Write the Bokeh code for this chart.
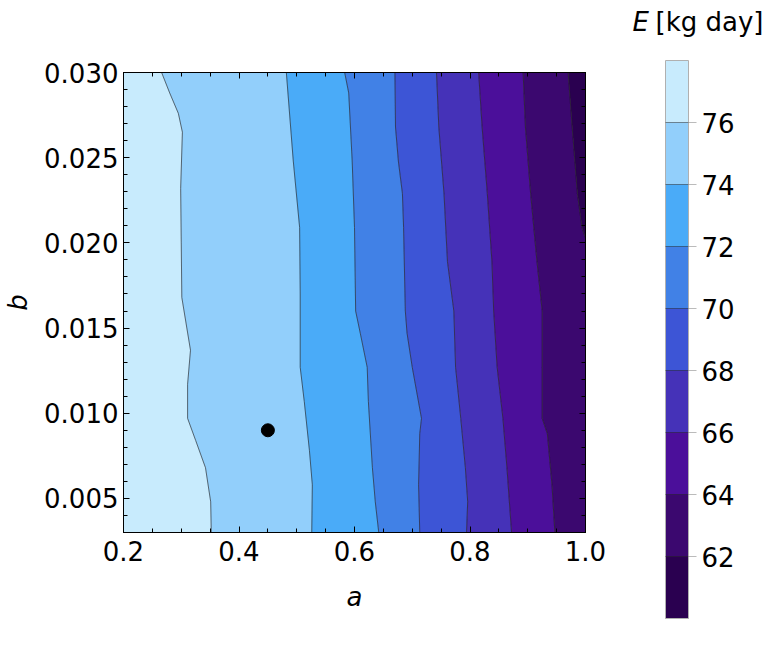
from bokeh.plotting import figure
from bokeh.models import (Range1d, FixedTicker, PrintfTickFormatter, LinearAxis,
                          CustomJSTickFormatter, ColorBar, LinearColorMapper)
from bokeh.embed import file_html
from bokeh.resources import INLINE

FONT = "DejaVu Sans"

# ---------------- data ----------------
levels = [60, 62, 64, 66, 68, 70, 72, 74, 76, 78]
band_colors = ["#2a0050", "#3b086f", "#4b0f9a", "#4532b8", "#3d55d6",
               "#4181e6", "#4aabf8", "#92cffb", "#c8ebfd"]
cbar_ticks = [62, 64, 66, 68, 70, 72, 74, 76]
cbar_title_symbol = "E"
cbar_title_unit = "[kg day]"

a_range = [0.2, 1.0]
b_range = [0.003, 0.030]

x_ticks = [0.2, 0.4, 0.6, 0.8, 1.0]
x_minor = [0.2, 0.25, 0.3, 0.35, 0.4, 0.45, 0.5, 0.55, 0.6, 0.65, 0.7, 0.75,
           0.8, 0.85, 0.9, 0.95, 1.0]
y_ticks = [0.005, 0.010, 0.015, 0.020, 0.025, 0.030]
y_minor = [round(0.003 + 0.001 * i, 3) for i in range(28)]

# contour boundaries (a positions at given b values)
b76 = [0.030, 0.0288, 0.0276, 0.0265, 0.0232, 0.0200, 0.0168, 0.0137, 0.0117, 0.0097, 0.0084, 0.0068, 0.0048, 0.003]
a76 = [0.266, 0.280, 0.295, 0.302, 0.299, 0.300, 0.301, 0.316, 0.311, 0.311, 0.325, 0.342, 0.351, 0.352]

b74 = [0.030, 0.0248, 0.0209, 0.0170, 0.0127, 0.0107, 0.0078, 0.0058, 0.003]
a74 = [0.482, 0.494, 0.505, 0.506, 0.506, 0.513, 0.522, 0.527, 0.526]

b72 = [0.030, 0.0288, 0.0248, 0.0209, 0.0160, 0.0147, 0.0127, 0.0107, 0.0068, 0.0048, 0.003]
a72 = [0.583, 0.590, 0.596, 0.600, 0.602, 0.610, 0.622, 0.624, 0.631, 0.636, 0.642]

b70 = [0.030, 0.0268, 0.0248, 0.0229, 0.0209, 0.0160, 0.0147, 0.0127, 0.0097, 0.0088, 0.0058, 0.003]
a70 = [0.670, 0.671, 0.676, 0.683, 0.685, 0.688, 0.691, 0.700, 0.716, 0.713, 0.711, 0.713]

b68 = [0.030, 0.0268, 0.0229, 0.0189, 0.0160, 0.0127, 0.0097, 0.0068, 0.0048, 0.003]
a68 = [0.742, 0.746, 0.755, 0.761, 0.772, 0.775, 0.784, 0.792, 0.796, 0.794]

b66 = [0.030, 0.0268, 0.0229, 0.0189, 0.0160, 0.0127, 0.0097, 0.0068, 0.003]
a66 = [0.815, 0.821, 0.830, 0.838, 0.841, 0.847, 0.857, 0.864, 0.872]

b64 = [0.030, 0.0268, 0.0229, 0.0189, 0.0160, 0.0127, 0.0097, 0.0088, 0.0058, 0.003]
a64 = [0.892, 0.896, 0.905, 0.916, 0.925, 0.925, 0.925, 0.934, 0.942, 0.947]

b62 = [0.030, 0.0268, 0.0229, 0.0209, 0.0203]
a62 = [0.970, 0.977, 0.986, 0.994, 1.000]

dot_a = [0.45]
dot_b = [0.009]

boundaries = [(a76, b76), (a74, b74), (a72, b72), (a70, b70),
              (a68, b68), (a66, b66), (a64, b64), (a62, b62)]

# ---------------- main figure ----------------
p = figure(width=764, height=650,
           x_range=Range1d(*a_range), y_range=Range1d(*b_range),
           output_backend="svg", toolbar_location=None,
           min_border_left=115, min_border_right=179,
           min_border_top=72, min_border_bottom=118)
p.grid.visible = False
p.outline_line_color = "black"
p.outline_line_width = 1
p.background_fill_color = "white"
p.border_fill_color = "white"


def close_side(a, b):
    a = list(a)
    b = list(b)
    if b[-1] > b_range[0]:
        a.append(a_range[1])
        b.append(b_range[0])
    return a, b


left_edge = ([a_range[0], a_range[0]], [b_range[1], b_range[0]])
right_edge = ([a_range[1], a_range[1]], [b_range[1], b_range[0]])
sides = [left_edge] + [close_side(a, b) for a, b in boundaries] + [right_edge]

n_bands = len(band_colors)
for i in range(n_bands):
    la, lb = sides[i]
    ra, rb = sides[i + 1]
    xs = list(la) + list(reversed(ra))
    ys = list(lb) + list(reversed(rb))
    color = band_colors[n_bands - 1 - i]
    p.patch(xs, ys, fill_color=color, line_color=color, line_width=0.5)

for a, b in boundaries:
    p.line(a, b, line_color="#262626", line_alpha=0.65, line_width=1)

p.scatter(dot_a, dot_b, size=13, color="black")


def style_axis(ax, ticks, minor, fmt, show_labels=True):
    ax.ticker = FixedTicker(ticks=ticks, minor_ticks=minor)
    ax.major_tick_in = 6
    ax.major_tick_out = 0
    ax.minor_tick_in = 4
    ax.minor_tick_out = 0
    ax.major_tick_line_color = "black"
    ax.minor_tick_line_color = "black"
    ax.axis_line_color = "black"
    ax.major_label_text_font = FONT
    ax.major_label_text_font_size = "26px"
    ax.major_label_text_color = "black"
    ax.axis_label_text_font = FONT
    ax.axis_label_text_font_size = "26px"
    ax.axis_label_text_font_style = "italic"
    ax.axis_label_text_color = "black"
    if show_labels:
        ax.formatter = PrintfTickFormatter(format=fmt)
    else:
        ax.formatter = CustomJSTickFormatter(code="return '';")


style_axis(p.xaxis[0], x_ticks, x_minor, "%.1f")
p.xaxis[0].axis_label = "a"
p.xaxis[0].major_label_standoff = 8
p.xaxis[0].axis_label_standoff = 18
style_axis(p.yaxis[0], y_ticks, y_minor, "%.3f")
p.yaxis[0].axis_label = "b"
p.yaxis[0].major_label_standoff = 5
p.yaxis[0].axis_label_standoff = 8

top_ax = LinearAxis()
style_axis(top_ax, x_ticks, x_minor, "", show_labels=False)
p.add_layout(top_ax, "above")
right_ax = LinearAxis()
style_axis(right_ax, y_ticks, y_minor, "", show_labels=False)
p.add_layout(right_ax, "right")

# ---------------- colour bar ----------------
mapper = LinearColorMapper(palette=band_colors, low=levels[0], high=levels[-1])
CB_LOC = (542, -86)
cbar = ColorBar(color_mapper=mapper, ticker=FixedTicker(ticks=cbar_ticks),
                formatter=PrintfTickFormatter(format="%d"),
                orientation="vertical", location=CB_LOC,
                width=23, height=558, padding=0, margin=0,
                major_tick_in=0, major_tick_out=8,
                major_tick_line_color="#bbbbbb", minor_tick_line_color=None,
                label_standoff=5,
                major_label_text_font=FONT, major_label_text_font_size="26px",
                major_label_text_color="black",
                bar_line_color="#b0b0b0", bar_line_width=1,
                background_fill_alpha=0, border_line_color=None)
p.add_layout(cbar, "center")

# dark level lines across the bar
cbar_lines = ColorBar(color_mapper=mapper, ticker=FixedTicker(ticks=cbar_ticks),
                      formatter=CustomJSTickFormatter(code="return '';"),
                      orientation="vertical", location=CB_LOC,
                      width=23, height=558, padding=0, margin=0,
                      scale_alpha=0, major_tick_in=23, major_tick_out=0,
                      major_tick_line_color="#262626", major_tick_line_alpha=0.5,
                      minor_tick_line_color=None, bar_line_color=None,
                      background_fill_alpha=0, border_line_color=None)
p.add_layout(cbar_lines, "center")


# colour-bar title: italic symbol and upright unit, carried by invisible bars
def title_bar(text, x_off, style):
    return ColorBar(color_mapper=mapper, ticker=FixedTicker(ticks=[]),
                    orientation="horizontal", location=(CB_LOC[0] + x_off, 495),
                    width=10, height=1, padding=0, margin=0,
                    scale_alpha=0, major_tick_line_color=None,
                    minor_tick_line_color=None, bar_line_color=None,
                    background_fill_alpha=0, border_line_color=None,
                    title=text, title_standoff=0, title_text_font=FONT,
                    title_text_font_size="26px", title_text_font_style=style,
                    title_text_color="black")


p.add_layout(title_bar(cbar_title_symbol, -33, "italic"), "center")
p.add_layout(title_bar(cbar_title_unit, -10, "normal"), "center")

open("out.html", "w").write(file_html(p, INLINE))
